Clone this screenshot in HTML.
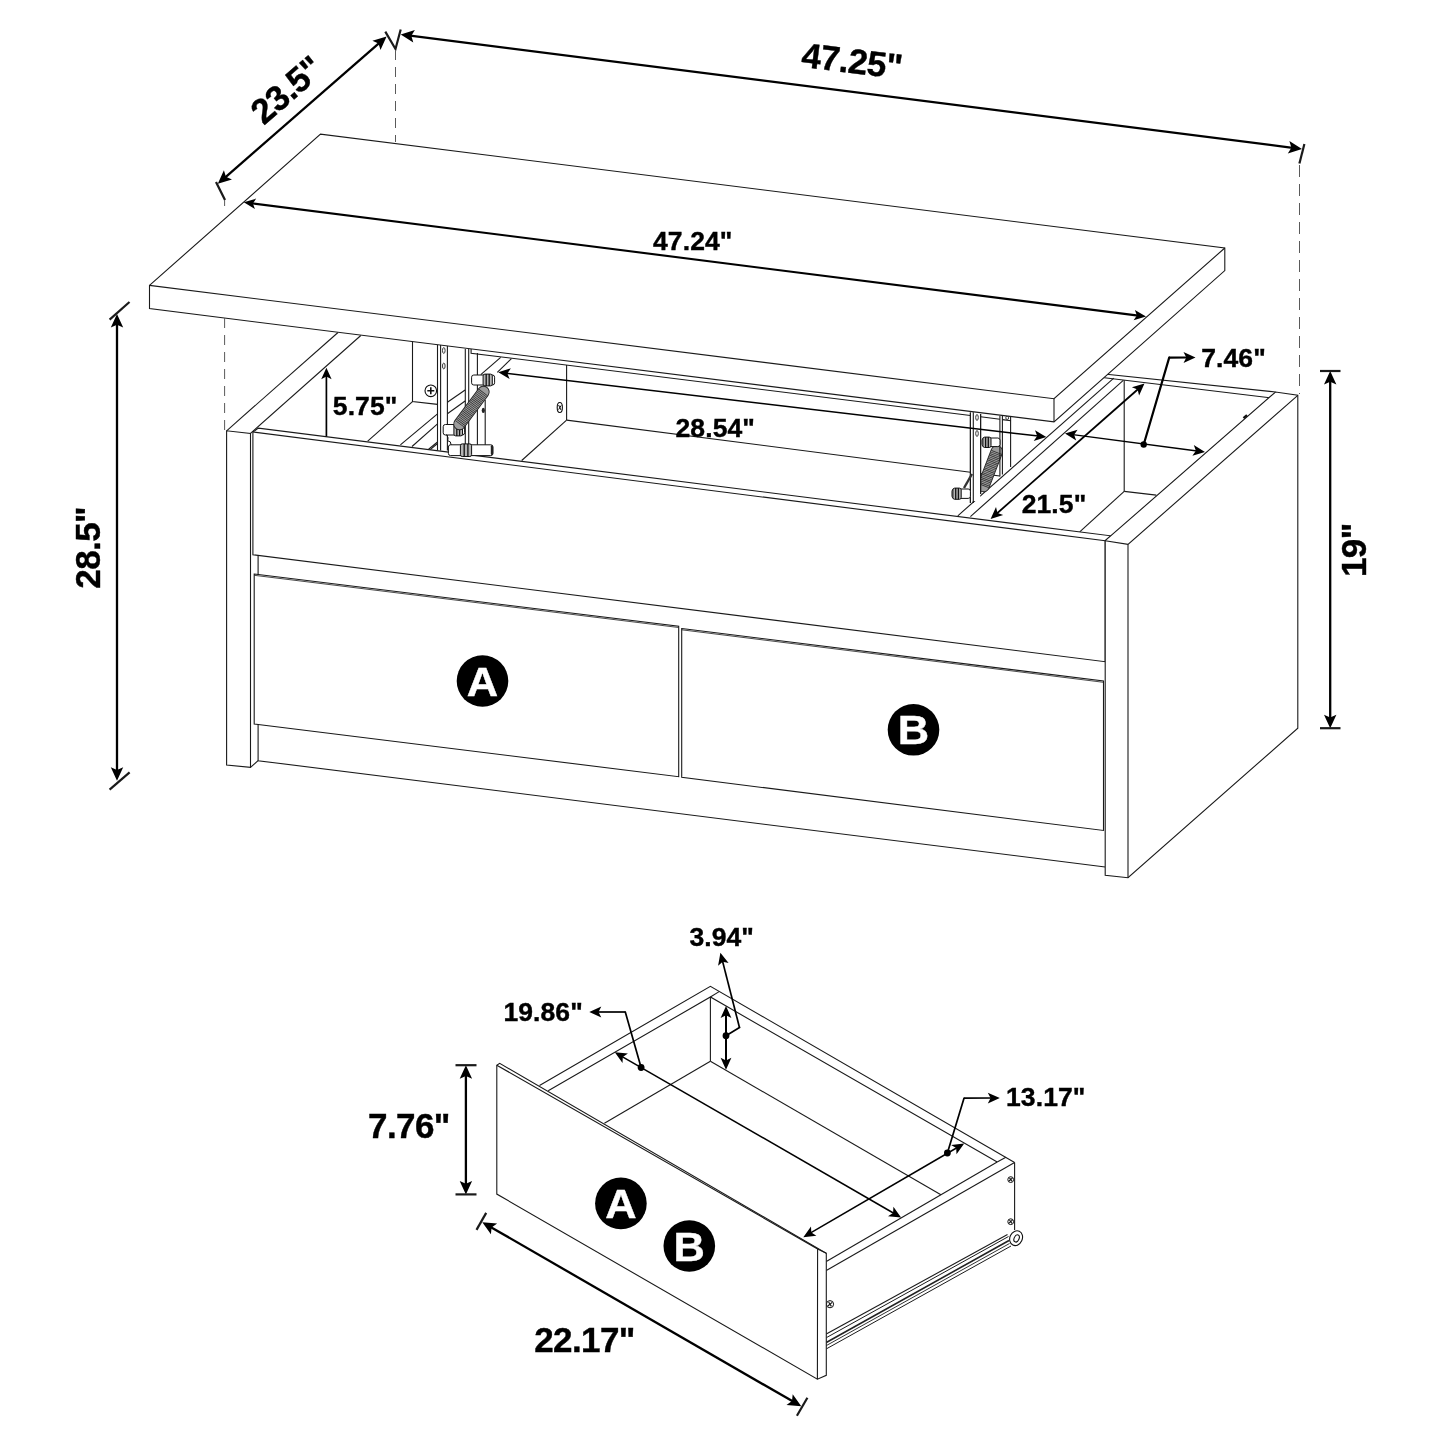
<!DOCTYPE html>
<html><head><meta charset="utf-8"><title>Lift-top coffee table dimensions</title>
<style>
html,body{margin:0;padding:0;background:#fff;}
body{width:1445px;height:1445px;overflow:hidden;}
svg{display:block;filter:grayscale(1);}
text{font-family:"Liberation Sans",sans-serif;font-weight:700;fill:#000;stroke:#000;stroke-width:0.4px;letter-spacing:0.1px;}
</style></head><body>
<svg width="1445" height="1445" viewBox="0 0 1445 1445">
<rect width="1445" height="1445" fill="#fff"/>
<path d="M1090.0,372.5 L1275.5,392.0" fill="none" stroke="#1a1a1a" stroke-width="1.1" stroke-linecap="butt" stroke-linejoin="miter"/>
<path d="M1090.0,376.0 L1269.7,397.8" fill="none" stroke="#1a1a1a" stroke-width="1.1" stroke-linecap="butt" stroke-linejoin="miter"/>
<path d="M1124.2,380.3 L1124.2,491.4" fill="none" stroke="#1a1a1a" stroke-width="1.1" stroke-linecap="butt" stroke-linejoin="miter"/>
<path d="M1124.2,491.4 L1156.3,495.1" fill="none" stroke="#1a1a1a" stroke-width="1.1" stroke-linecap="butt" stroke-linejoin="miter"/>
<path d="M1124.2,491.4 L1079.7,531.8" fill="none" stroke="#1a1a1a" stroke-width="1.1" stroke-linecap="butt" stroke-linejoin="miter"/>
<path d="M957.8,515.8 L1113.8,378.2" fill="none" stroke="#1a1a1a" stroke-width="1.1" stroke-linecap="butt" stroke-linejoin="miter"/>
<path d="M970.4,516.6 L1123.3,380.3" fill="none" stroke="#1a1a1a" stroke-width="1.1" stroke-linecap="butt" stroke-linejoin="miter"/>
<path d="M412.5,341.0 L412.5,401.6 L437.5,404.4" fill="none" stroke="#1a1a1a" stroke-width="1.1" stroke-linecap="butt" stroke-linejoin="miter"/>
<path d="M412.5,401.6 L367.7,441.2" fill="none" stroke="#1a1a1a" stroke-width="1.1" stroke-linecap="butt" stroke-linejoin="miter"/>
<path d="M437.5,413.8 L400.4,444.8" fill="none" stroke="#1a1a1a" stroke-width="1.1" stroke-linecap="butt" stroke-linejoin="miter"/>
<path d="M437.5,423.8 L412.0,446.5" fill="none" stroke="#1a1a1a" stroke-width="1.1" stroke-linecap="butt" stroke-linejoin="miter"/>
<path d="M437.5,442.0 L428.6,449.2" fill="none" stroke="#1a1a1a" stroke-width="1.1" stroke-linecap="butt" stroke-linejoin="miter"/>
<path d="M437.5,443.5 L430.2,449.6" fill="none" stroke="#1a1a1a" stroke-width="1.1" stroke-linecap="butt" stroke-linejoin="miter"/>
<path d="M447.4,402.2 L465.1,390.0" fill="none" stroke="#1a1a1a" stroke-width="1.1" stroke-linecap="butt" stroke-linejoin="miter"/>
<path d="M447.4,413.8 L465.1,401.0" fill="none" stroke="#1a1a1a" stroke-width="1.1" stroke-linecap="butt" stroke-linejoin="miter"/>
<path d="M566.6,365.0 L566.6,420.1" fill="none" stroke="#1a1a1a" stroke-width="1.1" stroke-linecap="butt" stroke-linejoin="miter"/>
<path d="M566.6,420.1 L970.4,472.2" fill="none" stroke="#1a1a1a" stroke-width="1.1" stroke-linecap="butt" stroke-linejoin="miter"/>
<path d="M566.6,420.1 L521.7,460.5" fill="none" stroke="#1a1a1a" stroke-width="1.1" stroke-linecap="butt" stroke-linejoin="miter"/>
<path d="M980.6,473.6 L999.9,476.0" fill="none" stroke="#1a1a1a" stroke-width="1.1" stroke-linecap="butt" stroke-linejoin="miter"/>
<path d="M471.1,349.0 L471.1,353.2 L970.4,415.5" fill="none" stroke="#1a1a1a" stroke-width="1.1" stroke-linecap="butt" stroke-linejoin="miter"/>
<path d="M980.6,416.8 L999.9,419.3" fill="none" stroke="#1a1a1a" stroke-width="1.1" stroke-linecap="butt" stroke-linejoin="miter"/>
<path d="M1002.4,419.6 L1011.0,420.8" fill="none" stroke="#1a1a1a" stroke-width="1.1" stroke-linecap="butt" stroke-linejoin="miter"/>
<path d="M480.8,374.7 L500.7,357.3" fill="none" stroke="#1a1a1a" stroke-width="1.1" stroke-linecap="butt" stroke-linejoin="miter"/>
<path d="M497.3,372.3 L511.4,358.7" fill="none" stroke="#1a1a1a" stroke-width="1.1" stroke-linecap="butt" stroke-linejoin="miter"/>
<path d="M437.5,344.5 L437.5,450.5" fill="none" stroke="#1a1a1a" stroke-width="1.1" stroke-linecap="butt" stroke-linejoin="miter"/>
<path d="M440.6,344.5 L440.6,450.5" fill="none" stroke="#1a1a1a" stroke-width="1.1" stroke-linecap="butt" stroke-linejoin="miter"/>
<path d="M447.4,344.5 L447.4,450.5" fill="none" stroke="#1a1a1a" stroke-width="1.1" stroke-linecap="butt" stroke-linejoin="miter"/>
<path d="M465.3,349.0 L465.3,446.0" fill="none" stroke="#1a1a1a" stroke-width="1.1" stroke-linecap="butt" stroke-linejoin="miter"/>
<path d="M468.7,349.0 L468.7,446.0" fill="none" stroke="#1a1a1a" stroke-width="1.1" stroke-linecap="butt" stroke-linejoin="miter"/>
<path d="M477.4,353.0 L477.4,446.0" fill="none" stroke="#1a1a1a" stroke-width="1.1" stroke-linecap="butt" stroke-linejoin="miter"/>
<path d="M485.2,400.0 L485.2,446.0" fill="none" stroke="#1a1a1a" stroke-width="1.1" stroke-linecap="butt" stroke-linejoin="miter"/>
<ellipse cx="443.8" cy="350.5" rx="1.3" ry="2.9" fill="#fff" stroke="#222" stroke-width="0.9"/>
<ellipse cx="443.8" cy="366" rx="1.3" ry="2.9" fill="#fff" stroke="#222" stroke-width="0.9"/>
<rect x="471.6" y="375.0" width="23.0" height="10.0" rx="2.2" fill="#fff" stroke="#111" stroke-width="1"/>
<rect x="483.1" y="374.1" width="9.2" height="11.8" rx="1.8" fill="#b5b5b5" stroke="#111" stroke-width="1"/>
<path d="M486.2,374.1 L486.2,385.9" stroke="#111" stroke-width="1.3"/>
<path d="M489.2,374.1 L489.2,385.9" stroke="#111" stroke-width="1.3"/>
<rect x="443.2" y="424.5" width="21.4" height="10.5" rx="2.2" fill="#fff" stroke="#111" stroke-width="1"/>
<rect x="453.9" y="423.6" width="8.6" height="12.3" rx="1.8" fill="#b5b5b5" stroke="#111" stroke-width="1"/>
<path d="M456.8,423.6 L456.8,435.9" stroke="#111" stroke-width="1.3"/>
<path d="M459.6,423.6 L459.6,435.9" stroke="#111" stroke-width="1.3"/>
<path d="M459.5,424.0 L483.4,392.0" fill="none" stroke="#222" stroke-width="12.5" stroke-linecap="round" stroke-linejoin="miter"/>
<path d="M459.5,424.0 L483.4,392.0" fill="none" stroke="#9c9c9c" stroke-width="10.7" stroke-linecap="round" stroke-linejoin="miter"/>
<path d="M459.5,424.0 L483.4,392.0" fill="none" stroke="#2a2a2a" stroke-width="11.0" stroke-linecap="butt" stroke-linejoin="miter" stroke-dasharray="0.7 1.0"/>
<ellipse cx="483.3" cy="410.4" rx="1.6" ry="2.6" fill="#222"/>
<circle cx="430.8" cy="390.8" r="5.8" fill="#fff" stroke="#111" stroke-width="1.1"/>
<path d="M427.3,390.8 L434.3,390.8 M430.8,387.3 L430.8,394.3" stroke="#111" stroke-width="1.6" fill="none"/>
<ellipse cx="559.8" cy="407.5" rx="2.6" ry="5" fill="#fff" stroke="#111" stroke-width="1.1"/>
<path d="M558.6,405 L561,410 M561.2,405.4 L558.6,409.6" stroke="#111" stroke-width="1" fill="none"/>
<path d="M983.5,486.0 L996.8,451.5" fill="none" stroke="#222" stroke-width="12.5" stroke-linecap="round" stroke-linejoin="miter"/>
<path d="M983.5,486.0 L996.8,451.5" fill="none" stroke="#9c9c9c" stroke-width="10.7" stroke-linecap="round" stroke-linejoin="miter"/>
<path d="M983.5,486.0 L996.8,451.5" fill="none" stroke="#2a2a2a" stroke-width="11.0" stroke-linecap="butt" stroke-linejoin="miter" stroke-dasharray="0.7 1.0"/>
<path d="M970.4,412.5 L970.4,503.0" fill="none" stroke="#1a1a1a" stroke-width="1.1" stroke-linecap="butt" stroke-linejoin="miter"/>
<path d="M973.3,412.5 L973.3,503.0" fill="none" stroke="#1a1a1a" stroke-width="1.1" stroke-linecap="butt" stroke-linejoin="miter"/>
<path d="M980.6,414.0 L980.6,494.0" fill="none" stroke="#1a1a1a" stroke-width="1.1" stroke-linecap="butt" stroke-linejoin="miter"/>
<rect x="971" y="413" width="9.2" height="88" fill="#fff" stroke="none"/>
<path d="M970.4,412.5 L970.4,503.0" fill="none" stroke="#1a1a1a" stroke-width="1.1" stroke-linecap="butt" stroke-linejoin="miter"/>
<path d="M973.3,412.5 L973.3,503.0" fill="none" stroke="#1a1a1a" stroke-width="1.1" stroke-linecap="butt" stroke-linejoin="miter"/>
<path d="M980.6,414.0 L980.6,494.0" fill="none" stroke="#1a1a1a" stroke-width="1.1" stroke-linecap="butt" stroke-linejoin="miter"/>
<path d="M999.9,415.8 L999.9,476.6" fill="none" stroke="#1a1a1a" stroke-width="1.1" stroke-linecap="butt" stroke-linejoin="miter"/>
<path d="M1002.4,416.0 L1002.4,474.5" fill="none" stroke="#1a1a1a" stroke-width="1.1" stroke-linecap="butt" stroke-linejoin="miter"/>
<path d="M1010.6,417.0 L1010.6,467.0" fill="none" stroke="#1a1a1a" stroke-width="1.1" stroke-linecap="butt" stroke-linejoin="miter"/>
<ellipse cx="977" cy="417.5" rx="1.3" ry="2.9" fill="#fff" stroke="#222" stroke-width="0.9"/>
<ellipse cx="977" cy="433.5" rx="1.3" ry="2.9" fill="#fff" stroke="#222" stroke-width="0.9"/>
<ellipse cx="1007.2" cy="417.8" rx="1.4" ry="1.8" fill="#fff" stroke="#222" stroke-width="0.9"/>
<rect x="982.0" y="438.0" width="18.0" height="8.6" rx="2.2" fill="#fff" stroke="#111" stroke-width="1"/>
<rect x="982.9" y="437.1" width="8.1" height="10.4" rx="1.8" fill="#b5b5b5" stroke="#111" stroke-width="1"/>
<path d="M985.6,437.1 L985.6,447.5" stroke="#111" stroke-width="1.3"/>
<path d="M988.3,437.1 L988.3,447.5" stroke="#111" stroke-width="1.3"/>
<rect x="952.0" y="489.0" width="18.4" height="9.4" rx="2.2" fill="#fff" stroke="#111" stroke-width="1"/>
<rect x="952.9" y="488.1" width="8.3" height="11.2" rx="1.8" fill="#b5b5b5" stroke="#111" stroke-width="1"/>
<path d="M955.7,488.1 L955.7,499.3" stroke="#111" stroke-width="1.3"/>
<path d="M958.4,488.1 L958.4,499.3" stroke="#111" stroke-width="1.3"/>
<path d="M964.0,488.0 L972.0,474.0" fill="none" stroke="#333" stroke-width="2.4" stroke-linecap="butt" stroke-linejoin="miter"/>
<path d="M226.6,430.8 L338.0,332.5" fill="none" stroke="#1a1a1a" stroke-width="1.1" stroke-linecap="butt" stroke-linejoin="miter"/>
<path d="M250.5,433.4 L360.8,335.5" fill="none" stroke="#1a1a1a" stroke-width="1.1" stroke-linecap="butt" stroke-linejoin="miter"/>
<path d="M226.6,430.8 L226.6,765.0 L250.5,767.4 L250.5,433.4 Z" fill="#fff" stroke="#1a1a1a" stroke-width="1.1" stroke-linecap="butt" stroke-linejoin="miter"/>
<path d="M250.5,767.4 L258.1,760.7" fill="none" stroke="#1a1a1a" stroke-width="1.1" stroke-linecap="butt" stroke-linejoin="miter"/>
<path d="M252.9,432.0 L258.4,428.1 L1110.6,535.8 L1105.2,540.7 L1105.2,661.7 L252.9,554.7 Z" fill="#fff" stroke="#1a1a1a" stroke-width="1.1" stroke-linecap="butt" stroke-linejoin="miter"/>
<path d="M252.9,432.0 L1105.2,540.7" fill="none" stroke="#1a1a1a" stroke-width="1.1" stroke-linecap="butt" stroke-linejoin="miter"/>
<path d="M254.2,574.0 L678.7,626.2 L678.7,776.7 L254.2,724.0 Z" fill="none" stroke="#1a1a1a" stroke-width="1.1" stroke-linecap="butt" stroke-linejoin="miter"/>
<path d="M254.2,575.3 L678.7,627.5" fill="none" stroke="#1a1a1a" stroke-width="0.8" stroke-linecap="butt" stroke-linejoin="miter"/>
<path d="M681.7,628.5 L1103.5,681.0 L1103.5,830.5 L681.7,777.3 Z" fill="none" stroke="#1a1a1a" stroke-width="1.1" stroke-linecap="butt" stroke-linejoin="miter"/>
<path d="M681.7,629.8 L1103.5,682.3" fill="none" stroke="#1a1a1a" stroke-width="0.8" stroke-linecap="butt" stroke-linejoin="miter"/>
<path d="M258.1,555.4 L258.1,574.5" fill="none" stroke="#1a1a1a" stroke-width="1.1" stroke-linecap="butt" stroke-linejoin="miter"/>
<path d="M258.1,724.5 L258.1,760.7 L1105.2,867.0" fill="none" stroke="#1a1a1a" stroke-width="1.1" stroke-linecap="butt" stroke-linejoin="miter"/>
<path d="M1105.2,540.7 L1275.5,392.0 L1297.8,395.3 L1297.8,728.2 L1128.0,877.7 L1105.2,875.3 Z" fill="#fff" stroke="#1a1a1a" stroke-width="1.1" stroke-linecap="butt" stroke-linejoin="miter"/>
<path d="M1105.2,540.7 L1128.0,544.4 L1297.8,395.3" fill="none" stroke="#1a1a1a" stroke-width="1.1" stroke-linecap="butt" stroke-linejoin="miter"/>
<path d="M1128.0,544.4 L1128.0,877.7" fill="none" stroke="#1a1a1a" stroke-width="1.1" stroke-linecap="butt" stroke-linejoin="miter"/>
<path d="M1243.5,418.2 L1247.0,415.2" fill="none" stroke="#111" stroke-width="2.4" stroke-linecap="butt" stroke-linejoin="miter"/>
<rect x="448.4" y="444.8" width="44.6" height="10.8" rx="2.2" fill="#fff" stroke="#111" stroke-width="1"/>
<rect x="460.4" y="443.9" width="11.2" height="12.6" rx="1.8" fill="#b5b5b5" stroke="#111" stroke-width="1"/>
<path d="M464.2,443.9 L464.2,456.5" stroke="#111" stroke-width="1.3"/>
<path d="M467.9,443.9 L467.9,456.5" stroke="#111" stroke-width="1.3"/>
<rect x="490.8" y="445.3" width="2.2" height="9.8" rx="1" fill="#222"/>
<path d="M446.5,434.5 q2.5,3.5 1.2,6.2 q3.6,0.4 3.4,4.2" fill="none" stroke="#111" stroke-width="1"/>
<circle cx="482.5" cy="681.0" r="25.8" fill="#000"/>
<text transform="translate(482.5 695.6) scale(1.06 1)" x="0" y="0" font-size="41" text-anchor="middle" style="fill:#fff;stroke:#fff;letter-spacing:0">A</text>
<circle cx="913.5" cy="729.8" r="25.8" fill="#000"/>
<text transform="translate(913.5 744.4) scale(1.06 1)" x="0" y="0" font-size="41" text-anchor="middle" style="fill:#fff;stroke:#fff;letter-spacing:0">B</text>
<path d="M149.5,285.4 L320.5,134.1 L1224.8,248.0 L1224.8,270.6 L1054.0,421.9 L149.5,308.6 Z" fill="#fff" stroke="#1a1a1a" stroke-width="1.1" stroke-linecap="butt" stroke-linejoin="miter"/>
<path d="M149.5,285.4 L1054.0,398.7 L1224.8,248.0" fill="none" stroke="#1a1a1a" stroke-width="1.1" stroke-linecap="butt" stroke-linejoin="miter"/>
<path d="M1054.0,398.7 L1054.0,421.9" fill="none" stroke="#1a1a1a" stroke-width="1.1" stroke-linecap="butt" stroke-linejoin="miter"/>
<path d="M217.8,183.8 L223.9,170.3 L225.9,176.8 L232.0,179.6 Z" fill="#000"/>
<path d="M386.6,36.6 L380.5,50.1 L378.5,43.6 L372.4,40.8 Z" fill="#000"/>
<path d="M225.0,177.6 L379.4,42.8" fill="none" stroke="#000" stroke-width="2.3" stroke-linecap="butt" stroke-linejoin="miter"/>
<path d="M216.0,182.0 L225.0,200.0" fill="none" stroke="#1a1a1a" stroke-width="2.2" stroke-linecap="butt" stroke-linejoin="miter"/>
<path d="M385.3,31.6 L395.5,49.0 L400.7,29.5" fill="none" stroke="#1a1a1a" stroke-width="2.2" stroke-linecap="butt" stroke-linejoin="miter"/>
<path d="M400.7,34.5 L414.9,30.1 L411.3,35.8 L413.3,42.4 Z" fill="#000"/>
<path d="M1302.0,149.0 L1287.8,153.4 L1291.4,147.7 L1289.4,141.1 Z" fill="#000"/>
<path d="M410.1,35.7 L1292.6,147.8" fill="none" stroke="#000" stroke-width="2.3" stroke-linecap="butt" stroke-linejoin="miter"/>
<path d="M1304.4,144.0 L1299.4,163.5" fill="none" stroke="#1a1a1a" stroke-width="2.2" stroke-linecap="butt" stroke-linejoin="miter"/>
<path d="M395.5,50.0 L395.5,142.0" fill="none" stroke="#5a5a5a" stroke-width="1" stroke-linecap="butt" stroke-linejoin="miter" stroke-dasharray="10 7"/>
<path d="M224.6,200.0 L224.6,206.0" fill="none" stroke="#5a5a5a" stroke-width="1" stroke-linecap="butt" stroke-linejoin="miter"/>
<path d="M224.6,318.0 L224.6,430.0" fill="none" stroke="#5a5a5a" stroke-width="1" stroke-linecap="butt" stroke-linejoin="miter" stroke-dasharray="10 7"/>
<path d="M1299.5,165.0 L1299.5,394.0" fill="none" stroke="#5a5a5a" stroke-width="1" stroke-linecap="butt" stroke-linejoin="miter" stroke-dasharray="12 7"/>
<path d="M243.8,202.3 L256.2,198.6 L252.9,203.5 L254.9,208.9 Z" fill="#000"/>
<path d="M1146.0,316.6 L1133.6,320.3 L1136.9,315.4 L1134.9,310.0 Z" fill="#000"/>
<path d="M251.5,203.3 L1138.3,315.6" fill="none" stroke="#000" stroke-width="2.1" stroke-linecap="butt" stroke-linejoin="miter"/>
<text x="286.3" y="102.1" font-size="35" text-anchor="middle" style="letter-spacing:-0.6px" transform="rotate(-41 286.3 89.6)">23.5"</text>
<text x="852.0" y="73.0" font-size="35" text-anchor="middle" style="letter-spacing:-0.6px" transform="rotate(7 852.0 60.5)">47.25"</text>
<text x="653.0" y="250.0" font-size="26.5" text-anchor="start">47.24"</text>
<path d="M117.0,314.0 L123.2,327.5 L117.0,324.7 L110.8,327.5 Z" fill="#000"/>
<path d="M117.0,780.7 L110.8,767.2 L117.0,770.0 L123.2,767.2 Z" fill="#000"/>
<path d="M117.0,323.5 L117.0,771.2" fill="none" stroke="#000" stroke-width="2.3" stroke-linecap="butt" stroke-linejoin="miter"/>
<path d="M109.6,319.6 L129.5,302.0" fill="none" stroke="#1a1a1a" stroke-width="2.2" stroke-linecap="butt" stroke-linejoin="miter"/>
<path d="M109.6,789.6 L129.6,772.4" fill="none" stroke="#1a1a1a" stroke-width="2.2" stroke-linecap="butt" stroke-linejoin="miter"/>
<text x="88.0" y="560.3" font-size="35" text-anchor="middle" style="letter-spacing:-0.6px" transform="rotate(-90 88.0 547.8)">28.5"</text>
<path d="M1330.2,371.0 L1336.4,384.5 L1330.2,381.7 L1324.0,384.5 Z" fill="#000"/>
<path d="M1330.2,728.2 L1324.0,714.7 L1330.2,717.5 L1336.4,714.7 Z" fill="#000"/>
<path d="M1330.2,380.5 L1330.2,718.7" fill="none" stroke="#000" stroke-width="2.3" stroke-linecap="butt" stroke-linejoin="miter"/>
<path d="M1320.0,371.0 L1340.5,371.0" fill="none" stroke="#1a1a1a" stroke-width="2.2" stroke-linecap="butt" stroke-linejoin="miter"/>
<path d="M1320.0,728.2 L1340.5,728.2" fill="none" stroke="#1a1a1a" stroke-width="2.2" stroke-linecap="butt" stroke-linejoin="miter"/>
<text x="1353.6" y="562.7" font-size="35" text-anchor="middle" style="letter-spacing:-0.6px" transform="rotate(-90 1353.6 550.2)">19"</text>
<path d="M326.4,367.8 L331.6,379.3 L326.4,376.5 L321.2,379.3 Z" fill="#000"/>
<path d="M326.4,436.5 L326.4,375.3" fill="none" stroke="#000" stroke-width="1.7" stroke-linecap="butt" stroke-linejoin="miter"/>
<text x="332.8" y="414.8" font-size="26.5" text-anchor="start">5.75"</text>
<path d="M498.3,372.3 L510.9,368.3 L507.4,373.4 L509.6,379.1 Z" fill="#000"/>
<path d="M1046.3,437.0 L1033.7,441.0 L1037.2,435.9 L1035.0,430.2 Z" fill="#000"/>
<path d="M506.2,373.2 L1038.4,436.1" fill="none" stroke="#000" stroke-width="1.5" stroke-linecap="butt" stroke-linejoin="miter"/>
<text x="675.5" y="437.0" font-size="26.5" text-anchor="start">28.54"</text>
<path d="M990.6,519.0 L996.0,507.0 L997.5,512.9 L1003.2,515.1 Z" fill="#000"/>
<path d="M1144.5,383.4 L1139.1,395.4 L1137.6,389.5 L1131.9,387.3 Z" fill="#000"/>
<path d="M996.6,513.7 L1138.5,388.7" fill="none" stroke="#000" stroke-width="1.8" stroke-linecap="butt" stroke-linejoin="miter"/>
<text x="1021.7" y="513.2" font-size="26.5" text-anchor="start">21.5"</text>
<path d="M1065.0,433.6 L1077.6,429.8 L1074.1,434.8 L1076.2,440.5 Z" fill="#000"/>
<path d="M1205.0,452.0 L1192.4,455.8 L1195.9,450.8 L1193.8,445.1 Z" fill="#000"/>
<path d="M1072.9,434.6 L1197.1,451.0" fill="none" stroke="#000" stroke-width="1.4" stroke-linecap="butt" stroke-linejoin="miter"/>
<circle cx="1143.7" cy="444.5" r="3.2" fill="#000"/>
<path d="M1143.7,444.5 L1169.2,357.6" fill="none" stroke="#000" stroke-width="2.2" stroke-linecap="round" stroke-linejoin="miter"/>
<path d="M1195.5,357.4 L1183.5,362.9 L1186.3,357.5 L1183.5,352.1 Z" fill="#000"/>
<path d="M1168.8,357.6 L1187.5,357.5" fill="none" stroke="#000" stroke-width="2.2" stroke-linecap="butt" stroke-linejoin="miter"/>
<text x="1201.2" y="366.6" font-size="26.5" text-anchor="start">7.46"</text>
<path d="M710.4,997.0 L710.4,1061.3" fill="none" stroke="#1a1a1a" stroke-width="1.1" stroke-linecap="butt" stroke-linejoin="miter"/>
<path d="M710.4,1061.3 L940.9,1194.8" fill="none" stroke="#1a1a1a" stroke-width="1.1" stroke-linecap="butt" stroke-linejoin="miter"/>
<path d="M710.4,1061.3 L604.4,1123.3" fill="none" stroke="#1a1a1a" stroke-width="1.1" stroke-linecap="butt" stroke-linejoin="miter"/>
<path d="M539.5,1085.5 L710.4,986.3 L1014.6,1162.6" fill="none" stroke="#1a1a1a" stroke-width="1.1" stroke-linecap="butt" stroke-linejoin="miter"/>
<path d="M548.2,1090.8 L710.4,997.0 L997.2,1162.0" fill="none" stroke="#1a1a1a" stroke-width="1.1" stroke-linecap="butt" stroke-linejoin="miter"/>
<path d="M710.4,997.0 L719.1,991.6" fill="none" stroke="#1a1a1a" stroke-width="1.1" stroke-linecap="butt" stroke-linejoin="miter"/>
<path d="M997.2,1162.0 L1005.9,1157.3" fill="none" stroke="#1a1a1a" stroke-width="1.1" stroke-linecap="butt" stroke-linejoin="miter"/>
<path d="M1014.6,1162.6 L826.3,1270.5" fill="none" stroke="#1a1a1a" stroke-width="1.1" stroke-linecap="butt" stroke-linejoin="miter"/>
<path d="M997.2,1162.0 L826.3,1261.5" fill="none" stroke="#1a1a1a" stroke-width="1.1" stroke-linecap="butt" stroke-linejoin="miter"/>
<path d="M1014.6,1162.6 L1014.6,1230.0" fill="none" stroke="#1a1a1a" stroke-width="1.1" stroke-linecap="butt" stroke-linejoin="miter"/>
<path d="M826.3,1334.1 L1007.5,1234.5" fill="none" stroke="#1a1a1a" stroke-width="1.1" stroke-linecap="butt" stroke-linejoin="miter"/>
<path d="M826.3,1337.7 L1008.5,1236.5" fill="none" stroke="#1a1a1a" stroke-width="1" stroke-linecap="butt" stroke-linejoin="miter"/>
<path d="M826.3,1342.5 L1009.0,1240.5" fill="none" stroke="#222" stroke-width="1.6" stroke-linecap="butt" stroke-linejoin="miter"/>
<path d="M826.3,1345.6 L1009.5,1243.5" fill="none" stroke="#1a1a1a" stroke-width="0.9" stroke-linecap="butt" stroke-linejoin="miter"/>
<path d="M826.3,1348.9 L1011.0,1246.0" fill="none" stroke="#1a1a1a" stroke-width="1" stroke-linecap="butt" stroke-linejoin="miter"/>
<ellipse cx="1016.1" cy="1238.2" rx="6.2" ry="7.6" transform="rotate(25 1016.1 1238.2)" fill="#fff" stroke="#111" stroke-width="1.1"/>
<ellipse cx="1016.6" cy="1238.4" rx="2.4" ry="3.8" transform="rotate(25 1016.6 1238.4)" fill="#fff" stroke="#111" stroke-width="1.1"/>
<circle cx="1010.7" cy="1179.6" r="2.9" fill="#fff" stroke="#111" stroke-width="1"/>
<path d="M1009.0,1181.0 L1012.4,1178.1 M1009.5,1177.9 L1011.9,1181.3" stroke="#111" stroke-width="1.1" fill="none"/>
<circle cx="1010.7" cy="1221.7" r="2.9" fill="#fff" stroke="#111" stroke-width="1"/>
<path d="M1009.0,1223.2 L1012.4,1220.2 M1009.5,1220.0 L1011.9,1223.4" stroke="#111" stroke-width="1.1" fill="none"/>
<circle cx="830" cy="1304.2" r="3.6" fill="#fff" stroke="#111" stroke-width="1"/>
<path d="M827.8,1306.0 L832.2,1302.4 M828.6,1302.0 L831.4,1306.4" stroke="#111" stroke-width="1.1" fill="none"/>
<path d="M496.8,1065.2 L499.7,1063.3 L826.3,1253.3 L826.3,1375.3 L817.4,1379.2 L496.8,1194.1 Z" fill="#fff" stroke="#1a1a1a" stroke-width="1.1" stroke-linecap="butt" stroke-linejoin="miter"/>
<path d="M496.8,1065.2 L817.6,1248.9 L817.4,1379.2" fill="none" stroke="#1a1a1a" stroke-width="1.1" stroke-linecap="butt" stroke-linejoin="miter"/>
<path d="M817.6,1248.9 L826.3,1253.3" fill="none" stroke="#1a1a1a" stroke-width="1.1" stroke-linecap="butt" stroke-linejoin="miter"/>
<circle cx="620.9" cy="1203.4" r="25.8" fill="#000"/>
<text transform="translate(620.9 1218.0) scale(1.06 1)" x="0" y="0" font-size="41" text-anchor="middle" style="fill:#fff;stroke:#fff;letter-spacing:0">A</text>
<circle cx="689.3" cy="1246.0" r="25.8" fill="#000"/>
<text transform="translate(689.3 1260.6) scale(1.06 1)" x="0" y="0" font-size="41" text-anchor="middle" style="fill:#fff;stroke:#fff;letter-spacing:0">B</text>
<path d="M465.9,1065.2 L472.1,1078.7 L465.9,1075.9 L459.7,1078.7 Z" fill="#000"/>
<path d="M465.9,1194.4 L459.7,1180.9 L465.9,1183.7 L472.1,1180.9 Z" fill="#000"/>
<path d="M465.9,1074.7 L465.9,1184.9" fill="none" stroke="#000" stroke-width="2.3" stroke-linecap="butt" stroke-linejoin="miter"/>
<path d="M455.5,1065.2 L476.5,1065.2" fill="none" stroke="#1a1a1a" stroke-width="2.2" stroke-linecap="butt" stroke-linejoin="miter"/>
<path d="M455.5,1194.4 L476.5,1194.4" fill="none" stroke="#1a1a1a" stroke-width="2.2" stroke-linecap="butt" stroke-linejoin="miter"/>
<text x="368.1" y="1137.5" font-size="35" text-anchor="start" style="letter-spacing:-0.6px">7.76"</text>
<text x="534.2" y="1351.8" font-size="35" text-anchor="start" style="letter-spacing:-0.6px">22.17"</text>
<path d="M482.3,1222.2 L497.1,1223.6 L491.6,1227.5 L490.9,1234.3 Z" fill="#000"/>
<path d="M801.3,1406.3 L786.5,1404.9 L792.0,1401.0 L792.7,1394.2 Z" fill="#000"/>
<path d="M490.5,1226.9 L793.1,1401.6" fill="none" stroke="#000" stroke-width="2.3" stroke-linecap="butt" stroke-linejoin="miter"/>
<path d="M476.5,1229.9 L486.2,1212.9" fill="none" stroke="#1a1a1a" stroke-width="2.2" stroke-linecap="butt" stroke-linejoin="miter"/>
<path d="M796.9,1415.7 L807.4,1397.7" fill="none" stroke="#1a1a1a" stroke-width="2.2" stroke-linecap="butt" stroke-linejoin="miter"/>
<text x="503.4" y="1020.5" font-size="26.5" text-anchor="start">19.86"</text>
<text x="689.4" y="945.8" font-size="26.5" text-anchor="start">3.94"</text>
<text x="1006.0" y="1106.0" font-size="26.5" text-anchor="start">13.17"</text>
<path d="M614.8,1052.3 L627.9,1053.6 L622.8,1056.9 L622.5,1063.0 Z" fill="#000"/>
<path d="M901.1,1217.5 L888.0,1216.2 L893.1,1212.9 L893.4,1206.8 Z" fill="#000"/>
<path d="M621.7,1056.3 L894.2,1213.5" fill="none" stroke="#000" stroke-width="1.5" stroke-linecap="butt" stroke-linejoin="miter"/>
<path d="M803.3,1237.2 L811.0,1226.5 L811.3,1232.6 L816.4,1235.8 Z" fill="#000"/>
<path d="M964.2,1143.5 L956.5,1154.2 L956.2,1148.1 L951.1,1144.9 Z" fill="#000"/>
<path d="M810.2,1233.2 L957.3,1147.5" fill="none" stroke="#000" stroke-width="1.5" stroke-linecap="butt" stroke-linejoin="miter"/>
<circle cx="641.1" cy="1067.5" r="3.4" fill="#000"/>
<circle cx="947.4" cy="1153.0" r="3.4" fill="#000"/>
<circle cx="726.0" cy="1035.7" r="3.4" fill="#000"/>
<path d="M641.1,1067.5 L625.3,1012.0" fill="none" stroke="#000" stroke-width="1.7" stroke-linecap="round" stroke-linejoin="miter"/>
<path d="M589.3,1012.0 L601.3,1006.6 L598.5,1012.0 L601.3,1017.4 Z" fill="#000"/>
<path d="M625.5,1012.0 L597.3,1012.0" fill="none" stroke="#000" stroke-width="1.7" stroke-linecap="butt" stroke-linejoin="miter"/>
<path d="M947.4,1153.0 L964.0,1098.3" fill="none" stroke="#000" stroke-width="1.7" stroke-linecap="round" stroke-linejoin="miter"/>
<path d="M999.8,1098.0 L987.8,1103.5 L990.6,1098.1 L987.8,1092.7 Z" fill="#000"/>
<path d="M963.8,1098.2 L991.8,1098.0" fill="none" stroke="#000" stroke-width="1.7" stroke-linecap="butt" stroke-linejoin="miter"/>
<path d="M726.0,1035.7 L739.5,1027.6" fill="none" stroke="#000" stroke-width="1.7" stroke-linecap="round" stroke-linejoin="miter"/>
<path d="M720.4,952.8 L728.6,963.1 L722.7,961.7 L718.1,965.8 Z" fill="#000"/>
<path d="M739.6,1028.0 L722.4,960.6" fill="none" stroke="#000" stroke-width="1.7" stroke-linecap="butt" stroke-linejoin="miter"/>
<path d="M726.0,1006.0 L731.4,1018.0 L726.0,1015.2 L720.6,1018.0 Z" fill="#000"/>
<path d="M726.0,1069.7 L720.6,1057.7 L726.0,1060.5 L731.4,1057.7 Z" fill="#000"/>
<path d="M726.0,1014.0 L726.0,1061.7" fill="none" stroke="#000" stroke-width="2.0" stroke-linecap="butt" stroke-linejoin="miter"/>
</svg>
</body></html>
